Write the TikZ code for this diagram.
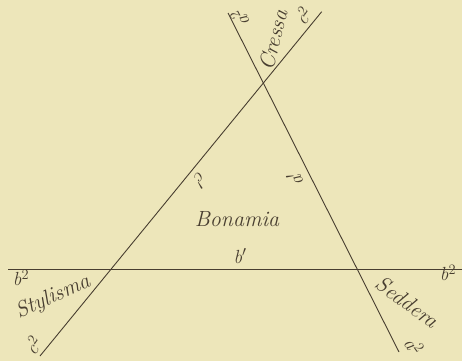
\documentclass[tikz,border=0pt]{standalone}
\usepackage{fontspec}
\usepackage{tikz}
\definecolor{paper}{RGB}{237,230,186}
\definecolor{ink}{RGB}{72,62,48}
\tikzset{
  lineink/.style={draw=ink, line width=0.9pt},
  bigname/.style={text=ink, font=\fontsize{22}{24}\selectfont\itshape, inner sep=0pt},
  smalllab/.style={text=ink, font=\fontsize{19}{21}\selectfont\itshape, inner sep=0pt},
}
\begin{document}
\begin{tikzpicture}[x=1pt,y=-1pt]
\fill[paper] (0,0) rectangle (462,361);
\useasboundingbox (0,0) rectangle (462,361);
% line endpoints
\coordinate (cbot) at (40,356);
\coordinate (ctop) at (321.7,11.7);
\coordinate (atop) at (228,13);
\coordinate (abot) at (399,352);
\coordinate (bleft) at (8,269);
\coordinate (bright) at (462,269);
\draw[lineink] (cbot) -- (ctop);
\draw[lineink] (atop) -- (abot);
\draw[lineink] (bleft) -- (bright);
% names
\node[bigname, rotate=76] (cressa) at (273,40) {Cressa};
\node[bigname, rotate=24] (stylisma) at (53,297) {Stylisma};
\node[bigname, rotate=-36] (seddera) at (407,302) {Seddera};
\node[bigname] (bonamia) at (237,219) {Bonamia};
% small labels
\node[smalllab] (b1) at (240,256) {b$'$};
\node[smalllab, rotate=230] (c1) at (200,180) {c$'$};
\node[smalllab, rotate=117] (a1) at (295,179) {a$'$};
\node[smalllab, rotate=117] (a2top) at (240,18) {a$^{2}$};
\node[smalllab, rotate=55] (c2top) at (303,16) {c$^{2}$};
\node[smalllab, rotate=55] (c2bot) at (33,345) {c$^{2}$};
\node[smalllab, rotate=-55] (a2bot) at (414,346) {a$^{2}$};
\node[smalllab] (b2left) at (21,278) {b$^{2}$};
\node[smalllab] (b2right) at (448,273) {b$^{2}$};
\end{tikzpicture}
\end{document}
